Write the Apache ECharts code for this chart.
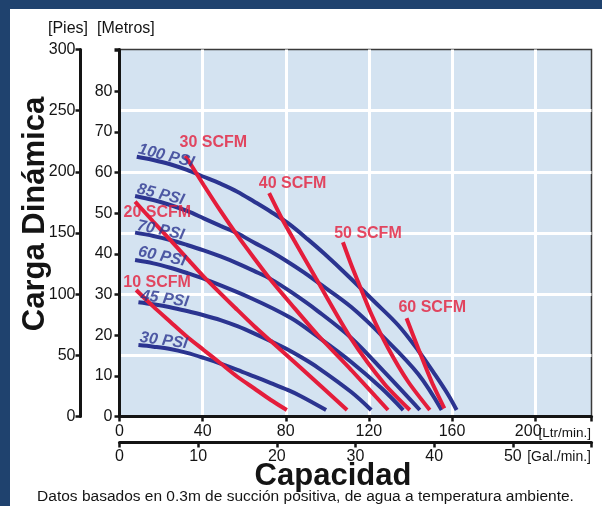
<!DOCTYPE html>
<html><head><meta charset="utf-8">
<script src="https://cdn.jsdelivr.net/npm/echarts@6/dist/echarts.min.js"></script>
<style>html,body{margin:0;padding:0;background:#fff}#c{width:602px;height:506px}</style>
</head><body><div id="c"></div>
<script>
// ---- tick labels ----
const lpmTicks = [0, 40, 80, 120, 160, 200];
const gpmTicks = [0, 10, 20, 30, 40, 50];
const piesTicks = [0, 50, 100, 150, 200, 250, 300];
const metrosTicks = [0, 10, 20, 30, 40, 50, 60, 70, 80];

// ---- pressure curves [Ltr/min, Pies] ----
const psiNames = ['100 PSI', '85 PSI', '70 PSI', '60 PSI', '45 PSI', '30 PSI'];
const psi100 = [[8.3,212.4],[16.3,209.7],[24.4,206.2],[32.5,201.5],[40.5,196.0],[48.6,190.3],[56.7,183.8],[64.7,175.8],[72.8,167.4],[80.9,158.2],[90.5,145.0],[98.6,133.0],[109.0,116.5],[122.7,93.8],[134.0,74.8],[143.7,54.0],[151.7,34.5],[158.2,17.6],[162.2,5.3]];
const psi85 = [[7.5,180.3],[16.3,177.0],[24.4,172.9],[32.5,168.0],[40.5,162.0],[48.6,155.8],[56.7,149.8],[64.7,142.2],[72.8,134.8],[80.9,126.5],[88.7,117.8],[95.4,109.6],[111.5,89.5],[127.4,64.2],[143.7,34.7],[155.0,5.3]];
const psi70 = [[7.5,150.3],[16.3,147.6],[24.4,144.3],[32.5,140.2],[40.5,135.8],[48.6,130.8],[56.7,125.2],[64.7,119.0],[72.8,112.3],[82.5,101.8],[95.4,86.2],[111.5,64.2],[127.4,36.4],[144.5,5.3]];
const psi60 = [[7.5,127.9],[16.3,125.2],[24.4,121.6],[32.5,117.3],[40.5,112.6],[63.1,96.9],[82.5,80.5],[95.4,65.2],[111.5,44.6],[126.0,23.3],[136.5,5.3]];
const psi45 = [[9.1,93.4],[16.3,91.7],[24.4,89.3],[32.5,86.2],[40.5,82.8],[48.6,78.8],[56.7,73.8],[64.7,68.0],[72.8,61.6],[80.9,54.8],[87.3,48.6],[95.4,40.0],[111.5,20.0],[121.1,5.3]];
const psi30 = [[9.1,58.4],[16.3,57.1],[24.4,55.2],[32.5,52.0],[40.5,47.9],[48.6,43.3],[56.7,38.2],[64.7,32.8],[72.8,27.3],[80.9,21.7],[87.3,16.6],[99.4,5.3]];

// ---- air consumption curves [Ltr/min, Pies] ----
const scfmNames = ['10 SCFM', '20 SCFM', '30 SCFM', '40 SCFM', '50 SCFM', '60 SCFM'];
const scfm10 = [[8.0,103.4],[16.3,89.8],[24.4,77.5],[32.5,65.2],[40.5,54.4],[48.6,43.5],[56.7,32.5],[64.7,23.1],[72.8,13.5],[80.5,5.3]];
const scfm20 = [[7.5,175.6],[16.3,159.2],[24.4,144.3],[32.5,129.3],[40.5,114.4],[56.7,87.1],[64.7,74.0],[72.8,61.7],[87.3,39.6],[109.5,5.3]];
const scfm30 = [[31.7,213.2],[40.5,189.2],[48.6,168.0],[56.7,148.0],[64.7,129.6],[72.8,111.6],[82.5,92.0],[95.4,66.6],[111.5,38.0],[129.2,5.3]];
const scfm40 = [[72.0,182.5],[77.6,163.5],[84.0,144.0],[94.5,113.0],[111.5,63.5],[127.4,26.8],[139.7,5.3]];
const scfm50 = [[107.5,142.4],[111.5,124.0],[114.7,110.5],[121.1,84.0],[129.2,56.0],[138.9,28.4],[149.3,5.3]];
const scfm60 = [[138.1,80.3],[143.7,55.8],[150.2,28.4],[156.3,6.7]];

// ---- styling ----
const NAVY = '#2b3490';
const RED = '#e41d3b';
const INK = '#141414';
const FONT = 'Arial, "Liberation Sans", Helvetica, sans-serif';
const psiSets = [psi100, psi85, psi70, psi60, psi45, psi30];
const scfmSets = [scfm10, scfm20, scfm30, scfm40, scfm50, scfm60];
const psiLabelOffset = [[28.4,-7.8],[24.5,-7.5],[24.5,-7.5],[25.5,-9],[25.5,-7],[24.5,-7.8]];
const psiLabelRotate = [-14,-14,-12,-12,-8,-8];
const scfmLabelOffset = [[21,-7.5],[22.3,10.8],[28,-13],[23.4,-10],[25,-9],[25.7,-10.3]];

const chart = echarts.init(document.getElementById('c'), null, {renderer: 'canvas'});

const axisLineStyle = {show: true, onZero: false, lineStyle: {color: INK, width: 3}};
const axisTickStyle = {show: true, length: 5, lineStyle: {color: INK, width: 2.5}};
const lblStyle = {fontSize: 16, color: INK, fontFamily: FONT};

const series = [];
psiSets.forEach((d, i) => series.push({
  type: 'line', name: psiNames[i], data: d, xAxisIndex: 0, yAxisIndex: 0,
  smooth: 0.35, showSymbol: false, silent: true, z: 3,
  lineStyle: {color: NAVY, width: 4, cap: 'butt'}
}));
scfmSets.forEach((d, i) => series.push({
  type: 'line', name: scfmNames[i], data: d, xAxisIndex: 0, yAxisIndex: 0,
  smooth: 0.25, showSymbol: false, silent: true, z: 4,
  lineStyle: {color: RED, width: 4, cap: 'butt'}
}));
series.push({
  type: 'scatter', xAxisIndex: 0, yAxisIndex: 0, symbolSize: 1, silent: true, z: 6,
  itemStyle: {color: 'rgba(0,0,0,0)'},
  label: {show: true, position: 'inside', color: NAVY, fontSize: 16, fontWeight: 'bold', fontStyle: 'italic', fontFamily: FONT, textBorderWidth: 0},
  data: psiSets.map((d, i) => ({value: d[0], label: {formatter: psiNames[i], offset: psiLabelOffset[i], rotate: psiLabelRotate[i]}}))
});
series.push({
  type: 'scatter', xAxisIndex: 0, yAxisIndex: 0, symbolSize: 1, silent: true, z: 6,
  itemStyle: {color: 'rgba(0,0,0,0)'},
  label: {show: true, position: 'inside', color: RED, fontSize: 16, fontWeight: 'bold', fontFamily: FONT, textBorderWidth: 0},
  data: scfmSets.map((d, i) => ({value: d[0], label: {formatter: scfmNames[i], offset: scfmLabelOffset[i]}}))
});

const option = {
  animation: false,
  backgroundColor: '#ffffff',
  grid: {left: 119.5, right: 10.5, top: 49.5, bottom: 89.5, show: true, backgroundColor: '#d4e3f1', borderColor: '#3a3a3a', borderWidth: 1.5, containLabel: false},
  xAxis: [
    {type: 'value', min: 0, max: 227.1, interval: 40, position: 'bottom',
     axisLine: axisLineStyle, axisTick: axisTickStyle,
     axisLabel: Object.assign({margin: 7, formatter: v => v === 200 ? '{s|200}' : (lpmTicks.includes(v) ? String(v) : ''),
       rich: {s: {fontSize: 16, color: INK, fontFamily: FONT, padding: [0, 14, 0, 0]}}}, lblStyle),
     splitLine: {show: true, showMinLine: false, showMaxLine: false, lineStyle: {color: '#ffffff', width: 3}}},
    {type: 'value', min: 0, max: 60, interval: 10, position: 'bottom', offset: 26,
     axisLine: axisLineStyle, axisTick: axisTickStyle,
     axisLabel: Object.assign({margin: 6, formatter: v => gpmTicks.includes(v) ? String(v) : ''}, lblStyle),
     splitLine: {show: false}}
  ],
  yAxis: [
    {type: 'value', min: 0, max: 300, interval: 50, position: 'left', offset: 39,
     axisLine: axisLineStyle, axisTick: axisTickStyle,
     axisLabel: Object.assign({margin: 5, formatter: v => piesTicks.includes(v) ? String(v) : ''}, lblStyle),
     splitLine: {show: true, showMinLine: false, showMaxLine: false, lineStyle: {color: '#ffffff', width: 3}}},
    {type: 'value', min: 0, max: 90.3, interval: 10, position: 'left', offset: 0,
     axisLine: axisLineStyle, axisTick: axisTickStyle,
     axisLabel: Object.assign({margin: 7, formatter: v => metrosTicks.includes(v) ? String(v) : ''}, lblStyle),
     splitLine: {show: false}}
  ],
  graphic: [
    {type: 'rect', left: 0, top: 0, shape: {width: 602, height: 9}, style: {fill: '#1f426e'}, silent: true},
    {type: 'rect', left: 0, top: 0, shape: {width: 10, height: 506}, style: {fill: '#1f426e'}, silent: true},
    {type: 'text', x: 48, y: 29, style: {text: '[Pies]', font: '16px ' + FONT, fill: INK, textVerticalAlign: 'middle'}},
    {type: 'text', x: 97, y: 29, style: {text: '[Metros]', font: '16px ' + FONT, fill: INK, textVerticalAlign: 'middle'}},
    {type: 'text', x: 35, y: 214, rotation: Math.PI / 2, style: {text: 'Carga Dinámica', font: 'bold 31px ' + FONT, fill: INK, textAlign: 'center', textVerticalAlign: 'middle'}},
    {type: 'text', x: 333, y: 476, style: {text: 'Capacidad', font: 'bold 31px ' + FONT, fill: INK, textAlign: 'center', textVerticalAlign: 'middle'}},
    {type: 'text', x: 305.5, y: 497, style: {text: 'Datos basados en 0.3m de succión positiva, de agua a temperatura ambiente.', font: '15.5px ' + FONT, fill: INK, textAlign: 'center', textVerticalAlign: 'middle'}},
    {type: 'text', x: 591, y: 433, style: {text: '[Ltr/min.]', font: '13.5px ' + FONT, fill: INK, textAlign: 'right', textVerticalAlign: 'middle'}},
    {type: 'text', x: 591, y: 457, style: {text: '[Gal./min.]', font: '14px ' + FONT, fill: INK, textAlign: 'right', textVerticalAlign: 'middle'}}
  ],
  series: series
};
chart.setOption(option);
</script></body></html>
